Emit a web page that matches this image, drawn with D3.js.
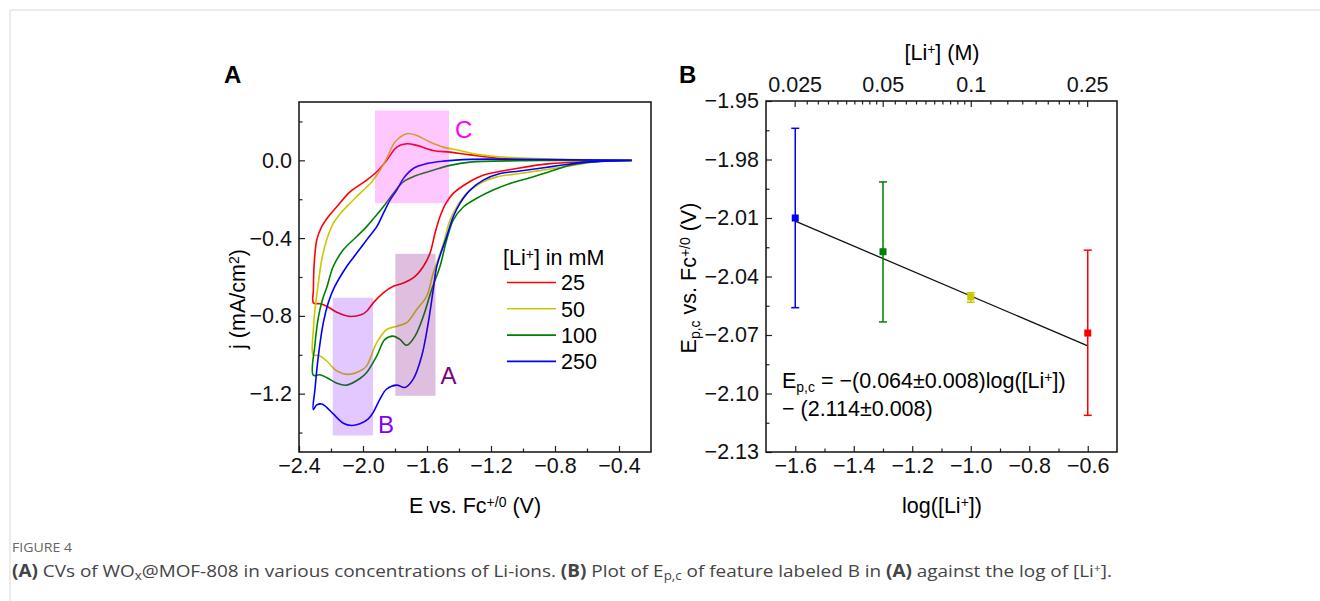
<!DOCTYPE html>
<html>
<head>
<meta charset="utf-8">
<script src="https://cdn.jsdelivr.net/npm/d3@7"></script>
<style>
  body { margin: 0; background: #fff; }
  svg { display: block; font-family: "Liberation Sans", Arial, sans-serif; }
  .tick text { font-size: 21.5px; fill: #111; }
  .tick line { stroke: #222; stroke-width: 1.2; }
  .cv { fill: none; stroke-width: 1.6; }
</style>
</head>
<body>
<script>
// ---- panel A : cyclic voltammograms, [E (V), j (mA/cm2)] ----
const liConc = ['25', '50', '100', '250'];
const cvColors = ['#ff0000', '#c8c800', '#008000', '#0000ff'];

const cv25 = [
  [-0.32, 0.0], [-0.62, -0.008], [-0.83, -0.017], [-1.04, -0.042], [-1.25, -0.077],
  [-1.352, -0.119], [-1.436, -0.17], [-1.481, -0.22], [-1.519, -0.29], [-1.55, -0.375],
  [-1.581, -0.477], [-1.623, -0.546], [-1.686, -0.605], [-1.748, -0.631], [-1.811, -0.648],
  [-1.873, -0.682], [-1.936, -0.733], [-1.977, -0.776], [-2.008, -0.793], [-2.092, -0.802],
  [-2.164, -0.781], [-2.227, -0.75], [-2.269, -0.738], [-2.31, -0.733],
  [-2.31, -0.665], [-2.306, -0.546], [-2.289, -0.409], [-2.258, -0.341], [-2.217, -0.29],
  [-2.164, -0.239], [-2.081, -0.162], [-1.977, -0.102], [-1.904, -0.051], [-1.852, 0.0],
  [-1.789, 0.068], [-1.727, 0.085], [-1.664, 0.077], [-1.561, 0.051], [-1.456, 0.042],
  [-1.331, 0.028], [-1.125, 0.009], [-0.81, 0.003], [-0.32, 0.0]
];
const cv50 = [
  [-0.32, 0.0], [-0.519, -0.004], [-0.644, -0.02], [-0.811, -0.042], [-1.019, -0.068],
  [-1.164, -0.085], [-1.269, -0.119], [-1.352, -0.17], [-1.414, -0.239], [-1.456, -0.307],
  [-1.5, -0.435], [-1.561, -0.58], [-1.602, -0.699], [-1.664, -0.767], [-1.727, -0.835],
  [-1.789, -0.853], [-1.852, -0.87], [-1.914, -0.938], [-1.977, -1.057], [-2.008, -1.078],
  [-2.092, -1.101], [-2.164, -1.083], [-2.227, -1.032], [-2.279, -1.003], [-2.311, -1.001],
  [-2.31, -0.87], [-2.3, -0.767], [-2.279, -0.631], [-2.258, -0.512], [-2.227, -0.409],
  [-2.186, -0.324], [-2.14, -0.272], [-2.09, -0.228], [-2.019, -0.17], [-1.946, -0.111],
  [-1.894, -0.051], [-1.848, 0.017], [-1.8, 0.094], [-1.727, 0.137], [-1.664, 0.128],
  [-1.581, 0.094], [-1.498, 0.068], [-1.394, 0.051], [-1.331, 0.038], [-1.125, 0.017],
  [-0.913, 0.009], [-0.706, 0.004], [-0.32, 0.0]
];
const cv100 = [
  [-0.32, 0.0], [-0.519, -0.004], [-0.625, -0.014], [-0.727, -0.03], [-0.844, -0.061],
  [-0.956, -0.09], [-1.081, -0.119], [-1.186, -0.153], [-1.289, -0.195], [-1.373, -0.24],
  [-1.436, -0.307], [-1.477, -0.409], [-1.519, -0.546], [-1.571, -0.665], [-1.623, -0.802],
  [-1.675, -0.904], [-1.727, -0.951], [-1.769, -0.921], [-1.811, -0.904], [-1.863, -0.921],
  [-1.914, -1.006], [-1.977, -1.091], [-2.019, -1.122], [-2.102, -1.156], [-2.164, -1.146],
  [-2.227, -1.117], [-2.269, -1.103], [-2.311, -1.105],
  [-2.3, -0.946], [-2.279, -0.808], [-2.253, -0.716], [-2.225, -0.65], [-2.186, -0.546],
  [-2.123, -0.46], [-2.039, -0.392], [-1.977, -0.341], [-1.925, -0.29], [-1.873, -0.239],
  [-1.811, -0.17], [-1.748, -0.111], [-1.664, -0.077], [-1.561, -0.051], [-1.456, -0.026],
  [-1.331, -0.009], [-1.019, -0.002], [-0.32, 0.0]
];
const cv250 = [
  [-0.32, 0.0], [-0.602, -0.009], [-0.811, -0.031], [-1.019, -0.055], [-1.144, -0.068],
  [-1.248, -0.102], [-1.331, -0.153], [-1.394, -0.221], [-1.436, -0.29], [-1.477, -0.392],
  [-1.539, -0.546], [-1.561, -0.665], [-1.592, -0.835], [-1.633, -1.006], [-1.686, -1.125],
  [-1.738, -1.168], [-1.789, -1.156], [-1.852, -1.176], [-1.894, -1.228], [-1.936, -1.296],
  [-1.967, -1.33], [-2.019, -1.355], [-2.071, -1.364], [-2.123, -1.352], [-2.186, -1.304],
  [-2.227, -1.27], [-2.258, -1.253], [-2.289, -1.258], [-2.311, -1.282],
  [-2.3, -1.176], [-2.279, -1.006], [-2.248, -0.835], [-2.217, -0.733], [-2.18, -0.655],
  [-2.102, -0.546], [-2.039, -0.477], [-1.977, -0.409], [-1.914, -0.341], [-1.873, -0.273],
  [-1.831, -0.205], [-1.789, -0.153], [-1.748, -0.094], [-1.686, -0.042], [-1.602, -0.017],
  [-1.498, -0.004], [-1.331, 0.005], [-1.019, 0.005], [-0.32, 0.0]
];
const cvCurves = [cv25, cv50, cv100, cv250];

// highlighted features: E range, j range
const regionNames = ['C', 'A', 'B'];
const regionE = [[-1.925, -1.4625], [-1.798, -1.547], [-2.189, -1.937]];
const regionJ = [[-0.22, 0.256], [-1.211, -0.481], [-1.415, -0.707]];
const regionColors = ['#ff00ff', '#800080', '#8000ff'];

const aTicksX = [-2.4, -2.0, -1.6, -1.2, -0.8, -0.4];
const aTicksY = [-1.2, -0.8, -0.4, 0.0];

// ---- panel B : peak potential vs log[Li+] ----
const logLi = [-1.6, -1.3, -1.0, -0.6];
const epc = [-2.010, -2.0273, -2.0505, -2.069];
const epcHi = [-1.964, -1.9915, -2.0483, -2.0265];
const epcLo = [-2.056, -2.0633, -2.0532, -2.1112];
const epcColors = ['#0000ff', '#008000', '#c8c800', '#ff0000'];
const fitSlope = -0.064, fitIntercept = -2.114;

const bTicksX = [-1.6, -1.4, -1.2, -1.0, -0.8, -0.6];
const bTicksY = [-1.95, -1.98, -2.01, -2.04, -2.07, -2.10, -2.13];
const concTicks = [0.025, 0.05, 0.1, 0.25];
const concLabels = ['0.025', '0.05', '0.1', '0.25'];

const FS = 21.5;

const svg = d3.select('body').append('svg')
  .attr('width', 1320)
  .attr('height', 601);

// page frame lines
svg.append('line').attr('x1', 10).attr('y1', 10).attr('x2', 1320).attr('y2', 10)
  .attr('stroke', '#d9d9d9');
svg.append('line').attr('x1', 10).attr('y1', 10).attr('x2', 10).attr('y2', 601)
  .attr('stroke', '#d9d9d9');

// rich text helper: parts = [[text, 'sup'|'sub'|undefined], ...]
function richText(sel, parts, size) {
  sel.style('font-size', size + 'px');
  parts.forEach(p => {
    let t = sel.append('tspan').text(p[0]);
    if (p[1] === 'sup') t.attr('baseline-shift', '45%').style('font-size', (size * 0.65) + 'px');
    if (p[1] === 'sub') t.attr('baseline-shift', '-25%').style('font-size', (size * 0.65) + 'px');
  });
  return sel;
}

function minorTicks(g, axis, scale, values, size) {
  g.append('g')
    .attr('class', 'minor')
    .call(axis(scale).tickValues(values).tickSize(-size).tickSizeOuter(0).tickFormat(''))
    .call(s => s.select('.domain').remove());
}

// ================= panel A =================
const xA = d3.scaleLinear().domain([-2.4, -0.2]).range([299, 651]);
const yA = d3.scaleLinear().domain([-1.5, 0.3]).range([452, 102]);
const gA = svg.append('g');

let cvLine = d3.line()
  .x(d => xA(d[0]))
  .y(d => yA(d[1]))
  .curve(d3.curveCatmullRom.alpha(0.5));

cvCurves.forEach((c, i) => {
  gA.append('path')
    .datum(c)
    .attr('class', 'cv')
    .attr('stroke', cvColors[i])
    .attr('d', cvLine);
});

// translucent feature boxes drawn over the curves
regionNames.forEach((n, i) => {
  gA.append('rect')
    .attr('x', xA(regionE[i][0]))
    .attr('y', yA(regionJ[i][1]))
    .attr('width', xA(regionE[i][1]) - xA(regionE[i][0]))
    .attr('height', yA(regionJ[i][0]) - yA(regionJ[i][1]))
    .attr('fill', regionColors[i])
    .attr('fill-opacity', i === 1 ? 0.25 : 0.22);
});
// feature labels
gA.append('text').attr('x', xA(regionE[0][1]) + 6).attr('y', yA(regionJ[0][1]) + 27)
  .style('font-size', '24px').attr('fill', regionColors[0]).text('C');
gA.append('text').attr('x', xA(regionE[1][1]) + 5).attr('y', yA(regionJ[1][0]) - 12)
  .style('font-size', '24px').attr('fill', regionColors[1]).text('A');
gA.append('text').attr('x', xA(regionE[2][1]) + 5).attr('y', yA(regionJ[2][0]) - 2)
  .style('font-size', '24px').attr('fill', regionColors[2]).text('B');

// axes
gA.append('g')
  .attr('transform', 'translate(0,452)')
  .call(d3.axisBottom(xA).tickValues(aTicksX).tickSize(-6).tickSizeOuter(0).tickPadding(6).tickFormat(d3.format('.1f')))
  .call(s => s.select('.domain').remove());
minorTicks(gA.append('g').attr('transform', 'translate(0,452)'), d3.axisBottom, xA, [-2.2, -1.8, -1.4, -1.0, -0.6], 3.5);
gA.append('g')
  .attr('transform', 'translate(299,0)')
  .call(d3.axisLeft(yA).tickValues(aTicksY).tickSize(-6).tickSizeOuter(0).tickPadding(7).tickFormat(d3.format('.1f')))
  .call(s => s.select('.domain').remove());
minorTicks(gA.append('g').attr('transform', 'translate(299,0)'), d3.axisLeft, yA, [-1.4, -1.0, -0.6, -0.2, 0.2], 3.5);

gA.append('rect')
  .attr('x', 299).attr('y', 102).attr('width', 352).attr('height', 350)
  .attr('fill', 'none').attr('stroke', '#111').attr('stroke-width', 1.5);

richText(gA.append('text').attr('x', 475).attr('y', 513).attr('text-anchor', 'middle'),
  [['E vs. Fc'], ['+/0', 'sup'], [' (V)']], FS);
richText(gA.append('text').attr('transform', 'translate(245,299) rotate(-90)').attr('text-anchor', 'middle'),
  [['j (mA/cm'], ['2', 'sup'], [')']], FS);
gA.append('text').attr('x', 224).attr('y', 83).style('font-size', '24px').style('font-weight', 'bold').text('A');

// legend
let legend = gA.append('g').attr('transform', 'translate(503,265)');
richText(legend.append('text').attr('x', 0).attr('y', 0), [['[Li'], ['+', 'sup'], ['] in mM']], FS);
liConc.forEach((c, i) => {
  let yy = 17.5 + i * 26.3;
  legend.append('line')
    .attr('x1', 4).attr('x2', 53).attr('y1', yy).attr('y2', yy)
    .attr('stroke', cvColors[i]).attr('stroke-width', 1.6);
  legend.append('text').attr('x', 58).attr('y', yy + 7.8).style('font-size', FS + 'px').text(c);
});

// ================= panel B =================
const xB = d3.scaleLinear().domain([-1.7, -0.5]).range([766, 1117]);
const yB = d3.scaleLinear().domain([-2.13, -1.95]).range([452, 101]);
const gB = svg.append('g');

// linear fit
gB.append('line')
  .attr('x1', xB(logLi[0])).attr('y1', yB(fitSlope * logLi[0] + fitIntercept))
  .attr('x2', xB(logLi[3])).attr('y2', yB(fitSlope * logLi[3] + fitIntercept))
  .attr('stroke', '#111').attr('stroke-width', 1.3);

// error bars and points
logLi.forEach((lx, i) => {
  let cx = xB(lx);
  gB.append('line').attr('x1', cx).attr('x2', cx).attr('y1', yB(epcHi[i])).attr('y2', yB(epcLo[i]))
    .attr('stroke', epcColors[i]).attr('stroke-width', 1.5);
  [epcHi[i], epcLo[i]].forEach(v => {
    gB.append('line').attr('x1', cx - 4).attr('x2', cx + 4).attr('y1', yB(v)).attr('y2', yB(v))
      .attr('stroke', epcColors[i]).attr('stroke-width', 1.5);
  });
  gB.append('rect').attr('x', cx - 3.5).attr('y', yB(epc[i]) - 3.5).attr('width', 7).attr('height', 7)
    .attr('fill', epcColors[i]);
});

gB.append('g')
  .attr('transform', 'translate(0,452)')
  .call(d3.axisBottom(xB).tickValues(bTicksX).tickSize(-6).tickSizeOuter(0).tickPadding(6).tickFormat(d3.format('.1f')))
  .call(s => s.select('.domain').remove());
minorTicks(gB.append('g').attr('transform', 'translate(0,452)'), d3.axisBottom, xB, [-1.5, -1.3, -1.1, -0.9, -0.7], 3.5);
gB.append('g')
  .attr('transform', 'translate(766,0)')
  .call(d3.axisLeft(yB).tickValues(bTicksY).tickSize(-6).tickSizeOuter(0).tickPadding(7).tickFormat(d3.format('.2f')))
  .call(s => s.select('.domain').remove());
minorTicks(gB.append('g').attr('transform', 'translate(766,0)'), d3.axisLeft, yB,
  [-1.965, -1.995, -2.025, -2.055, -2.085, -2.115], 3.5);

// top axis: concentration on log scale
gB.append('g')
  .attr('transform', 'translate(0,101)')
  .call(d3.axisTop(xB).tickValues(concTicks.map(Math.log10)).tickSize(-6).tickSizeOuter(0).tickPadding(9)
    .tickFormat((d, i) => concLabels[i]))
  .call(s => s.select('.domain').remove());
let concMinor = d3.range(0.0275, 0.049, 0.0025)
  .concat(d3.range(0.055, 0.099, 0.005))
  .concat(d3.range(1, 9).map(k => 0.1 + k * 0.15 / 9));
minorTicks(gB.append('g').attr('transform', 'translate(0,101)'), d3.axisTop, xB, concMinor.map(Math.log10), 3.5);

gB.append('rect')
  .attr('x', 766).attr('y', 101).attr('width', 351).attr('height', 351)
  .attr('fill', 'none').attr('stroke', '#111').attr('stroke-width', 1.5);

richText(gB.append('text').attr('x', 942).attr('y', 513).attr('text-anchor', 'middle'),
  [['log([Li'], ['+', 'sup'], ['])']], FS);
richText(gB.append('text').attr('x', 942).attr('y', 60).attr('text-anchor', 'middle'),
  [['[Li'], ['+', 'sup'], ['] (M)']], FS);
richText(gB.append('text').attr('transform', 'translate(696,278) rotate(-90)').attr('text-anchor', 'middle'),
  [['E'], ['p,c', 'sub'], [' vs. Fc'], ['+/0', 'sup'], [' (V)']], FS);
gB.append('text').attr('x', 679).attr('y', 83).style('font-size', '24px').style('font-weight', 'bold').text('B');

richText(gB.append('text').attr('x', 782).attr('y', 388),
  [['E'], ['p,c', 'sub'], [' = \u2212(0.064\u00b10.008)log([Li'], ['+', 'sup'], ['])']], FS);
gB.append('text').attr('x', 782).attr('y', 416).style('font-size', FS + 'px').text('\u2212 (2.114\u00b10.008)');

// ================= caption =================
svg.append('text').attr('x', 12).attr('y', 552)
  .style('font-family', '"Open Sans", "Noto Sans", sans-serif').style('font-size', '13px')
  .attr('textLength', 60).attr('lengthAdjust', 'spacingAndGlyphs')
  .attr('fill', '#666').text('FIGURE 4');
let cap = svg.append('text').attr('x', 12).attr('y', 577)
  .style('font-family', '"Open Sans", "Noto Sans", sans-serif').style('font-size', '17px')
  .attr('textLength', 1100).attr('lengthAdjust', 'spacingAndGlyphs')
  .attr('fill', '#444');
[['(A)', 'b'], [' CVs of WO'], ['x', 'sub'], ['@MOF-808 in various concentrations of Li-ions. '], ['(B)', 'b'],
 [' Plot of E'], ['p,c', 'sub'], [' of feature labeled B in '], ['(A)', 'b'], [' against the log of [Li'], ['+', 'sup'], [']. ']]
  .forEach(p => {
    let t = cap.append('tspan').text(p[0]);
    if (p[1] === 'b') t.style('font-weight', 'bold');
    if (p[1] === 'sub') t.attr('baseline-shift', '-25%').style('font-size', '12px');
    if (p[1] === 'sup') t.attr('baseline-shift', '45%').style('font-size', '11px');
  });
</script>
</body>
</html>
